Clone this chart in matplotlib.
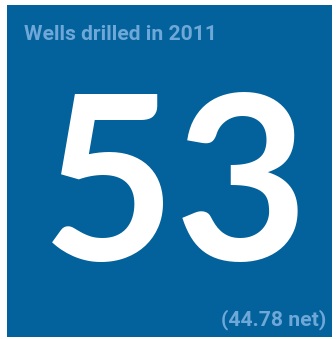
import matplotlib
matplotlib.use("Agg")
import matplotlib.pyplot as plt
from matplotlib.patches import Rectangle

TITLE = "Wells drilled in 2011"
VALUE = "53"
NET_LABEL = "(44.78 net)"

W, H = 336, 339
BLUE = "#03619b"
LIGHT = "#6ea8d8"


def fx(px):
    return px / W


def fy(py):
    return 1 - py / H


fig = plt.figure(figsize=(W / 100, H / 100), dpi=100)
fig.patch.set_facecolor("white")

# blue card
fig.patches.append(Rectangle((fx(7), fy(337)), fx(332) - fx(7), fy(5) - fy(337),
                             transform=fig.transFigure, facecolor=BLUE,
                             edgecolor="none", zorder=0))

fig.text(fx(24), fy(40), TITLE, family="Roboto", fontweight="bold",
         fontsize=15.2, color=LIGHT, ha="left", va="baseline")
fig.text(fx(175.5), fy(260), VALUE, family="Lato", fontweight="bold",
         fontsize=166, color="white", ha="center", va="baseline")
fig.text(fx(326), fy(325), NET_LABEL, family="Roboto", fontweight="bold",
         fontsize=15.2, color=LIGHT, ha="right", va="baseline")

fig.savefig("out.png", dpi=100, facecolor="white")
